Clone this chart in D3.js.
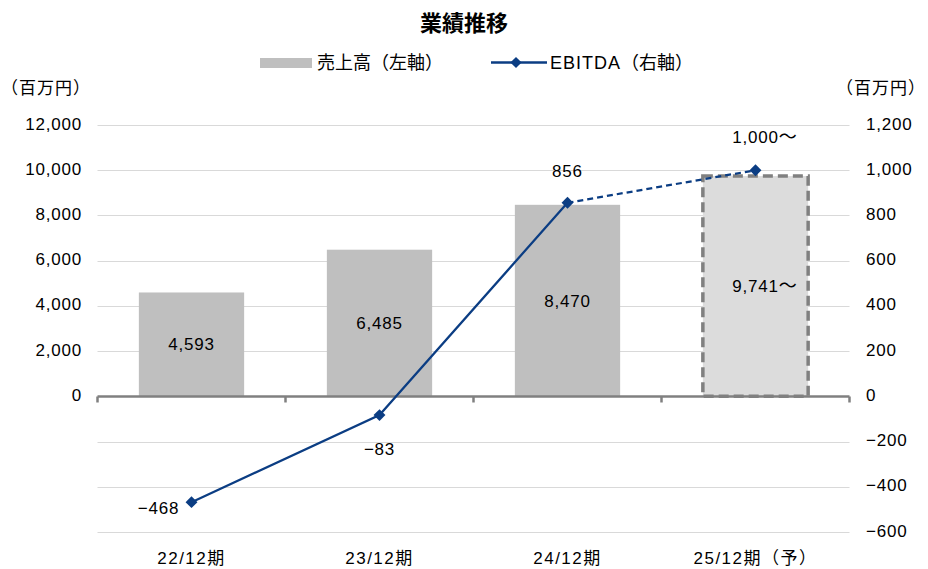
<!DOCTYPE html>
<html>
<head>
<meta charset="utf-8">
<script src="https://cdn.jsdelivr.net/npm/d3@7.9.0/dist/d3.min.js"></script>
<style>
  body { margin: 0; background: #fff; }
  svg { display: block; font-family: "Liberation Sans", "Noto Sans CJK JP", sans-serif; fill: #000; }
  .cjk { font-family: "Noto Sans CJK JP", sans-serif; }
  .num { letter-spacing: 0.8px; }
</style>
</head>
<body>
<svg id="chart" width="928" height="569"></svg>
<script>
// data
const periods = ['22/12期', '23/12期', '24/12期', '25/12期（予）'];
const sales = [4593, 6485, 8470, 9741];
const salesLabels = ['4,593', '6,485', '8,470', '9,741'];
const ebitda = [-468, -83, 856, 1000];
const ebitdaLabels = ['−468', '−83', '856', '1,000'];
const forecast = [false, false, false, true];
const leftTicks = [0, 2000, 4000, 6000, 8000, 10000, 12000];
const rightTicks = [-600, -400, -200, 0, 200, 400, 600, 800, 1000, 1200];

const svg = d3.select('#chart');
const plotLeft = 97.5, plotRight = 849.5, plotTop = 125, plotBottom = 532;
const blue = '#0b3d83';

const x = d3.scaleBand().domain(periods).range([plotLeft, plotRight]).paddingInner(0.44).paddingOuter(0.22);
const xOuter = d3.scaleBand().domain(periods).range([plotLeft, plotRight]);
const yL = d3.scaleLinear().domain([-6000, 12000]).range([plotBottom, plotTop]);
const yR = d3.scaleLinear().domain([-600, 1200]).range([plotBottom, plotTop]);

const fmt = d3.format(',');
const minus = (v) => fmt(v).replace('-', '−');

// adds a centered number label, with a trailing "～" for forecast values
function numLabel(g, cx, y, txt, tilde) {
  const t = g.append('text').attr('class', 'num').attr('x', cx).attr('y', y)
    .attr('text-anchor', 'middle').attr('font-size', 17).text(txt);
  if (tilde) {
    const w = t.node().getComputedTextLength();
    g.append('text').attr('class', 'cjk').attr('x', cx + w / 2).attr('y', y).attr('font-size', 18).text('～');
  }
}

// title
svg.append('text').attr('class', 'cjk').attr('x', 464).attr('y', 31).attr('text-anchor', 'middle')
  .attr('font-size', 22).attr('font-weight', 'bold').text('業績推移');

// legend
const lg = svg.append('g');
lg.append('rect').attr('x', 260).attr('y', 58).attr('width', 52).attr('height', 10).attr('fill', '#bfbfbf');
lg.append('text').attr('class', 'cjk').attr('x', 317).attr('y', 69).attr('font-size', 18).text('売上高（左軸）');
lg.append('line').attr('x1', 491).attr('x2', 547).attr('y1', 62.5).attr('y2', 62.5)
  .attr('stroke', blue).attr('stroke-width', 2.5);
lg.append('path').attr('d', d3.symbol(d3.symbolDiamond2, 80)()).attr('transform', 'translate(516,62.5)').attr('fill', blue);
lg.append('text').attr('x', 550).attr('y', 69).attr('font-size', 18).attr('letter-spacing', 1)
  .text('EBITDA').append('tspan').attr('class', 'cjk').attr('letter-spacing', 0).text('（右軸）');

// unit labels
svg.append('text').attr('class', 'cjk').attr('x', 1).attr('y', 94).attr('font-size', 17).attr('letter-spacing', 1).text('（百万円）');
svg.append('text').attr('class', 'cjk').attr('x', 926).attr('y', 94).attr('text-anchor', 'end').attr('font-size', 17).attr('letter-spacing', 1).text('（百万円）');

// gridlines (right axis steps)
svg.append('g').selectAll('line').data(rightTicks.filter(d => d !== 0)).join('line')
  .attr('x1', plotLeft).attr('x2', plotRight)
  .attr('y1', d => Math.round(yR(d)) + 0.5).attr('y2', d => Math.round(yR(d)) + 0.5)
  .attr('stroke', '#d9d9d9').attr('stroke-width', 1);

// left axis labels
svg.append('g').selectAll('text').data(leftTicks).join('text')
  .attr('class', 'num').attr('x', 82).attr('y', d => yL(d) + 4.5).attr('text-anchor', 'end')
  .attr('font-size', 17).text(d => fmt(d));

// right axis labels
svg.append('g').selectAll('text').data(rightTicks).join('text')
  .attr('class', 'num').attr('x', 866).attr('y', d => yR(d) + 4.5).attr('text-anchor', 'start')
  .attr('font-size', 17).text(d => minus(d));

// bars
svg.append('g').selectAll('rect').data(periods).join('rect')
  .attr('x', d => x(d)).attr('width', x.bandwidth())
  .attr('y', (d, i) => yL(sales[i]))
  .attr('height', (d, i) => yL(0) - yL(sales[i]))
  .attr('fill', (d, i) => forecast[i] ? '#dcdcdc' : '#bfbfbf')
  .attr('stroke', (d, i) => forecast[i] ? '#808080' : 'none')
  .attr('stroke-width', 3.5)
  .attr('stroke-dasharray', '10,5');

// zero axis with ticks
const y0 = Math.round(yL(0)) + 0.5;
svg.append('line').attr('x1', plotLeft).attr('x2', plotRight).attr('y1', y0).attr('y2', y0)
  .attr('stroke', '#808080').attr('stroke-width', 2.5);
const bounds = periods.map(p => xOuter(p)).concat([plotRight]);
svg.append('g').selectAll('line').data(bounds).join('line')
  .attr('x1', d => d).attr('x2', d => d).attr('y1', y0).attr('y2', y0 + 6)
  .attr('stroke', '#808080').attr('stroke-width', 2.5);

// bar labels
const barLab = svg.append('g');
periods.forEach((p, i) => {
  numLabel(barLab, x(p) + x.bandwidth() / 2, (yL(sales[i]) + yL(0)) / 2 + 6, salesLabels[i], forecast[i]);
});

// category labels
svg.append('g').selectAll('text').data(periods).join('text')
  .attr('x', d => xOuter(d) + xOuter.bandwidth() / 2).attr('y', 564)
  .attr('text-anchor', 'middle').attr('font-size', 17).attr('letter-spacing', 1.5).text(d => d);

// EBITDA line: solid for actuals, dashed into the forecast
const pts = periods.map((p, i) => [x(p) + x.bandwidth() / 2, yR(ebitda[i])]);
const line = d3.line();
svg.append('path').attr('d', line(pts.slice(0, 3))).attr('fill', 'none')
  .attr('stroke', blue).attr('stroke-width', 2.25);
svg.append('path').attr('d', line(pts.slice(2, 4))).attr('fill', 'none')
  .attr('stroke', blue).attr('stroke-width', 2.25).attr('stroke-dasharray', '6,4');
svg.append('g').selectAll('path').data(pts).join('path')
  .attr('d', d3.symbol(d3.symbolDiamond2, 90)())
  .attr('transform', d => `translate(${d[0]},${d[1]})`).attr('fill', blue);

// EBITDA labels
const ebLab = svg.append('g');
const labelOff = [[-33, 11.5], [0, 40], [0, -26], [0, -27]];
pts.forEach((d, i) => {
  numLabel(ebLab, d[0] + labelOff[i][0], d[1] + labelOff[i][1], ebitdaLabels[i], forecast[i]);
});
</script>
</body>
</html>
